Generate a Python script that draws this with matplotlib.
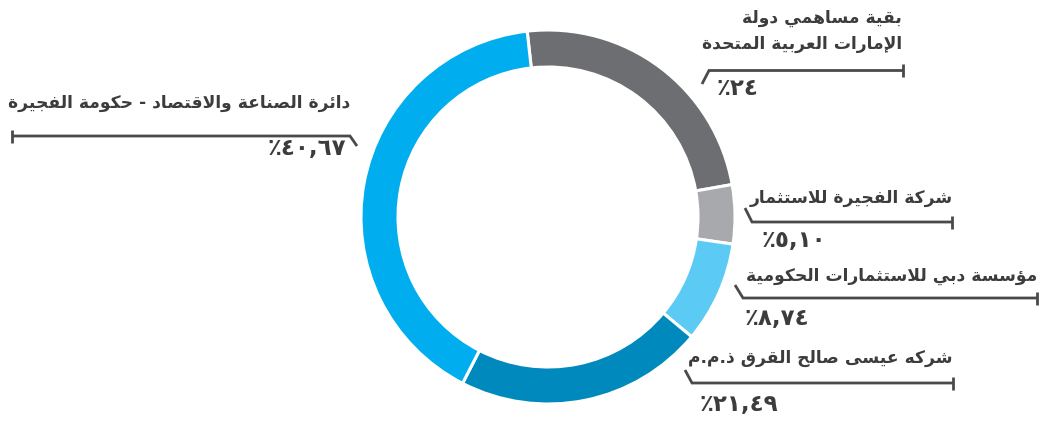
import matplotlib
matplotlib.use("Agg")
import matplotlib.pyplot as plt

# ---------------- data ----------------
values = [24.00, 5.10, 8.74, 21.49, 40.67]
colors = ["#6d6e71", "#a7a9ac", "#5bcbf5", "#0089bc", "#00aeef"]
labels = [
    "بقية مساهمي دولة\nالإمارات العربية المتحدة",
    "شركة الفجيرة للاستثمار",
    "مؤسسة دبي للاستثمارات الحكومية",
    "شركه عيسى صالح القرق ذ.م.م",
    "دائرة الصناعة والاقتصاد - حكومة الفجيرة",
]
pct_labels = ["٪٢٤", "٪٥,١٠", "٪٨,٧٤", "٪٢١,٤٩", "٪٤٠,٦٧"]

# ------------- simple Arabic shaping (presentation forms + visual order) -------------
DUAL = {0x0626: 0xFE89, 0x0628: 0xFE8F, 0x062A: 0xFE95, 0x062B: 0xFE99, 0x062C: 0xFE9D,
        0x062D: 0xFEA1, 0x062E: 0xFEA5, 0x0633: 0xFEB1, 0x0634: 0xFEB5, 0x0635: 0xFEB9,
        0x0636: 0xFEBD, 0x0637: 0xFEC1, 0x0638: 0xFEC5, 0x0639: 0xFEC9, 0x063A: 0xFECD,
        0x0641: 0xFED1, 0x0642: 0xFED5, 0x0643: 0xFED9, 0x0644: 0xFEDD, 0x0645: 0xFEE1,
        0x0646: 0xFEE5, 0x0647: 0xFEE9, 0x064A: 0xFEF1}
RIGHT = {0x0622: 0xFE81, 0x0623: 0xFE83, 0x0624: 0xFE85, 0x0625: 0xFE87, 0x0627: 0xFE8D,
         0x0629: 0xFE93, 0x062F: 0xFEA9, 0x0630: 0xFEAB, 0x0631: 0xFEAD, 0x0632: 0xFEAF,
         0x0648: 0xFEED, 0x0649: 0xFEEF}
LAMALEF = {0x0622: 0xFEF5, 0x0623: 0xFEF7, 0x0625: 0xFEF9, 0x0627: 0xFEFB}


def shape_line(s):
    units = []
    i = 0
    while i < len(s):
        c = ord(s[i])
        if c == 0x0644 and i + 1 < len(s) and ord(s[i + 1]) in LAMALEF:
            units.append(("LA", ord(s[i + 1])))
            i += 2
        else:
            units.append(("C", c))
            i += 1

    def joins_next(u):
        return u[0] == "C" and u[1] in DUAL

    def joins_prev(u):
        return u[0] == "LA" or u[1] in DUAL or u[1] in RIGHT

    out = []
    for k, u in enumerate(units):
        prev = units[k - 1] if k > 0 else None
        nxt = units[k + 1] if k + 1 < len(units) else None
        cp = prev is not None and joins_next(prev) and joins_prev(u)
        cn = nxt is not None and joins_next(u) and joins_prev(nxt)
        if u[0] == "LA":
            out.append(chr(LAMALEF[u[1]] + (1 if cp else 0)))
        elif u[1] in DUAL:
            idx = 3 if (cp and cn) else 2 if cn else 1 if cp else 0
            out.append(chr(DUAL[u[1]] + idx))
        elif u[1] in RIGHT:
            out.append(chr(RIGHT[u[1]] + (1 if cp else 0)))
        else:
            out.append(chr(u[1]))
    return "".join(reversed(out))


def shape(s):
    return "\n".join(shape_line(line) for line in s.split("\n"))


# ---------------- figure ----------------
W, H = 1046, 423
fig = plt.figure(figsize=(W / 100, H / 100), dpi=100)
ax = fig.add_axes([0, 0, 1, 1])

cx, cy, R, ring = 548, H - 217, 187, 37
ax.pie(values, colors=colors, startangle=96.4, counterclock=False,
       center=(cx, cy), radius=R,
       wedgeprops=dict(width=ring, edgecolor="white", linewidth=2.2))

ax.set_xlim(0, W)
ax.set_ylim(0, H)
ax.set_aspect("equal")
ax.axis("off")

TXT = "#3c3c3c"
LINE = "#4a4a4a"
FONT = "DejaVu Sans"


def Y(y):
    return H - y


# leader lines: (slant_start, corner, end) in image pixel coordinates
leaders = [
    [(702, 84), (709, 70.5), (903, 70.5)],
    [(745, 208), (752, 222), (952, 222)],
    [(735, 285), (743, 298), (1037, 298)],
    [(685, 370), (692, 383), (953, 383)],
    [(357, 146), (350, 136), (12, 136)],
]
for pts in leaders:
    xs = [p[0] for p in pts]
    ys = [Y(p[1]) for p in pts]
    ax.plot(xs, ys, color=LINE, lw=2, solid_capstyle="butt", solid_joinstyle="miter")
    ex, ey = pts[-1]
    ax.plot([ex, ex], [Y(ey - 6.5), Y(ey + 6.5)], color=LINE, lw=2, solid_capstyle="butt")

# label text (right-aligned) positions: (x_right, y_center)
label_pos = [(902, 31), (953, 198), (1037, 276), (953, 358), (350, 103)]
for lab, (x, y) in zip(labels, label_pos):
    ax.text(x, Y(y), shape(lab), ha="right", va="center", fontsize=12.3,
            fontweight="bold", color=TXT, family=FONT, linespacing=1.6)

# percentage positions: (x, y_center, ha)
pct_pos = [(717, 88, "left"), (762, 240, "left"), (745, 318, "left"),
           (700, 404, "left"), (346, 148, "right")]
for p, (x, y, ha) in zip(pct_labels, pct_pos):
    ax.text(x, Y(y), p, ha=ha, va="center", fontsize=16.5, fontweight="bold",
            color=TXT, family=FONT)

fig.savefig("out.png", dpi=100)
